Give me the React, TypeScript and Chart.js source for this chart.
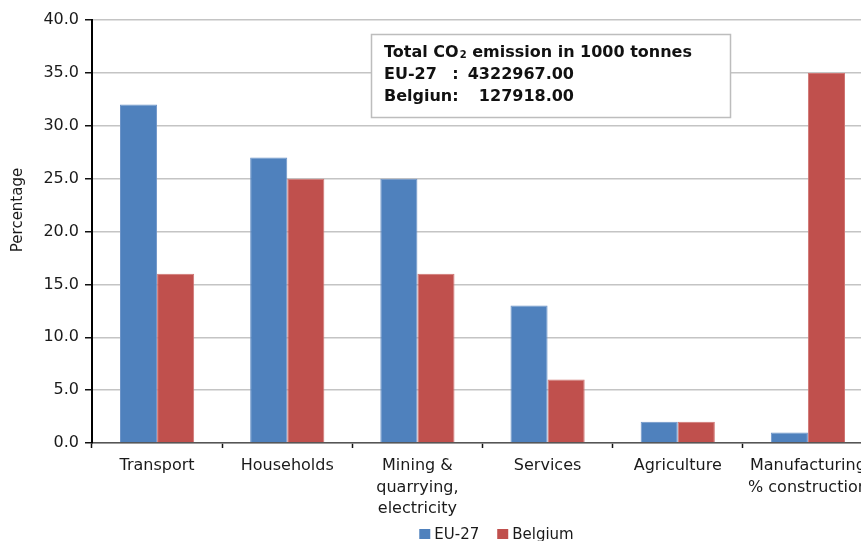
import React, { useEffect, useRef } from "react";
import { Chart, registerables } from "chart.js";

Chart.register(...registerables);

// Sector shares of CO2 emissions (%)
const categories: string[][] = [
  ["Transport"],
  ["Households"],
  ["Mining &", "quarrying,", "electricity"],
  ["Services"],
  ["Agriculture"],
  ["Manufacturing", "% construction"],
];
const seriesNames = ["EU-27", "Belgium"];
const eu27 = [32, 27, 25, 13, 2, 1];
const belgium = [16, 25, 16, 6, 2, 35];

const yMin = 0;
const yMax = 40;
const yStep = 5;
const axisTitle = "Percentage";

// Totals note
const totalsHeading = ["Total CO", "2", " emission in 1000 tonnes"];
const totalsLabels = ["EU-27", "Belgiun"];
const totalsValues = [4322967.0, 127918.0];

const BLUE = "#4F81BD";
const RED = "#C0504D";
const FONT = "'DejaVu Sans', Verdana, sans-serif";

const overlayPlugin = {
  id: "overlay",
  afterDraw(chart: any) {
    const { ctx, chartArea } = chart;
    ctx.save();

    // rotated y-axis title
    ctx.save();
    ctx.translate(18, chartArea.top + 190);
    ctx.rotate(-Math.PI / 2);
    ctx.fillStyle = "#1a1a1a";
    ctx.font = `15px ${FONT}`;
    ctx.textAlign = "center";
    ctx.textBaseline = "middle";
    ctx.fillText(axisTitle, 0, 0);
    ctx.restore();

    // totals note box
    const bx = chartArea.left + 279;
    const by = chartArea.top + 14;
    const bw = 359;
    const bh = 83;
    ctx.fillStyle = "#ffffff";
    ctx.fillRect(bx, by, bw, bh);
    ctx.strokeStyle = "#bdbdbd";
    ctx.lineWidth = 1.5;
    ctx.strokeRect(bx + 0.5, by + 0.5, bw, bh);

    const tx = bx + 13;
    const bold = `bold 16px ${FONT}`;
    ctx.fillStyle = "#111";
    ctx.textBaseline = "alphabetic";
    ctx.textAlign = "left";
    ctx.font = bold;
    let x = tx;
    ctx.fillText(totalsHeading[0], x, by + 23);
    x += ctx.measureText(totalsHeading[0]).width + 1;
    ctx.font = `bold 10px ${FONT}`;
    ctx.fillText(totalsHeading[1], x, by + 24);
    x += ctx.measureText(totalsHeading[1]).width;
    ctx.font = bold;
    ctx.fillText(totalsHeading[2], x, by + 23);

    const labelW = Math.max(...totalsLabels.map((l) => ctx.measureText(l).width));
    const colonX = tx + labelW;
    const valueRight = bx + 203;
    totalsLabels.forEach((label, i) => {
      const y = by + 45 + i * 21.5;
      ctx.textAlign = "left";
      ctx.fillText(label, tx, y);
      ctx.fillText(":", colonX, y);
      ctx.textAlign = "right";
      ctx.fillText(totalsValues[i].toFixed(2), valueRight, y);
    });

    // legend
    ctx.font = `15px ${FONT}`;
    ctx.textAlign = "left";
    ctx.textBaseline = "alphabetic";
    const boxW = 11;
    const boxH = 10;
    const gapText = 4;
    const gapItem = 18;
    const items = chart.data.datasets.map((d: any) => ({
      label: d.label,
      color: d.backgroundColor,
      w: ctx.measureText(d.label).width,
    }));
    const total =
      items.reduce((s: number, it: any) => s + boxW + gapText + it.w, 0) + gapItem * (items.length - 1);
    let lx = (chartArea.left + chartArea.right) / 2 + 14 - total / 2;
    const ly = 529;
    items.forEach((it: any) => {
      ctx.fillStyle = it.color;
      ctx.fillRect(lx, ly, boxW, boxH);
      ctx.fillStyle = "#1a1a1a";
      ctx.fillText(it.label, lx + boxW + gapText, ly + 10);
      lx += boxW + gapText + it.w + gapItem;
    });

    ctx.restore();
  },
};

export default function App() {
  const canvasRef = useRef<HTMLCanvasElement | null>(null);

  useEffect(() => {
    const canvas = canvasRef.current;
    if (!canvas) return;
    const chart = new Chart(canvas, {
      type: "bar",
      data: {
        labels: categories,
        datasets: [
          {
            label: seriesNames[0],
            data: eu27,
            backgroundColor: BLUE,
            borderColor: "#6d94c8",
            borderWidth: 1,
          },
          {
            label: seriesNames[1],
            data: belgium,
            backgroundColor: RED,
            borderColor: "#cf7472",
            borderWidth: 1,
          },
        ],
      },
      options: {
        responsive: false,
        animation: false,
        events: [],
        layout: { padding: { left: 42, right: 27, top: 20, bottom: 18 } },
        datasets: {
          bar: { categoryPercentage: 0.57, barPercentage: 1 },
        },
        plugins: {
          legend: { display: false },
          tooltip: { enabled: false },
        },
        scales: {
          x: {
            grid: {
              drawOnChartArea: false,
              drawTicks: true,
              tickLength: 5,
              tickColor: "#111",
              tickWidth: 1.5,
            },
            border: { color: "#555", width: 1.5 },
            ticks: {
              color: "#1a1a1a",
              font: { family: FONT, size: 16, lineHeight: 1.35 },
              padding: 7,
              maxRotation: 0,
              autoSkip: false,
            },
            afterFit: (s: any) => {
              s.height = 80;
            },
          },
          y: {
            min: yMin,
            max: yMax,
            grid: {
              color: "#c4c4c4",
              lineWidth: 1.5,
              tickLength: 7,
              tickColor: "#111",
              tickWidth: 1.5,
            },
            border: { color: "#000", width: 2 },
            ticks: {
              stepSize: yStep,
              color: "#1a1a1a",
              font: { family: FONT, size: 16 },
              padding: 6,
              callback: (v: any) => Number(v).toFixed(1),
            },
            afterFit: (s: any) => {
              s.width = 50;
            },
          },
        },
      },
      plugins: [overlayPlugin],
    });
    return () => chart.destroy();
  }, []);

  return (
    <div
      style={{
        position: "fixed",
        left: 0,
        top: 0,
        width: 861,
        height: 541,
        overflow: "hidden",
        background: "#ffffff",
      }}
    >
      <canvas ref={canvasRef} width={900} height={541} style={{ display: "block" }} />
    </div>
  );
}
